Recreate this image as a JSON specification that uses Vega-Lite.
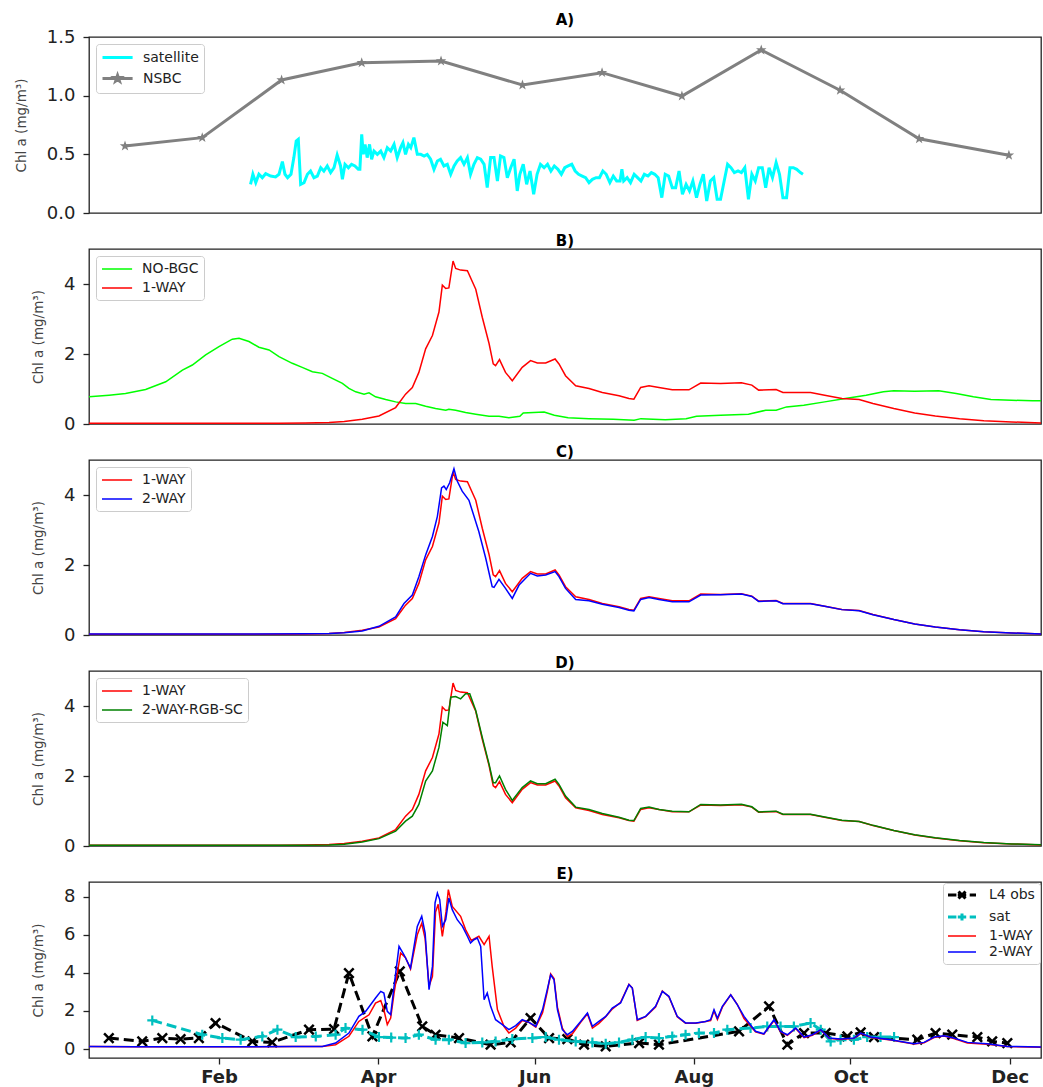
{
  "$schema": "https://vega.github.io/schema/vega-lite/v6.json",
  "padding": {"left": 13, "top": 12, "right": 0, "bottom": 0},
  "spacing": 10,
  "resolve": {"scale": {"color": "independent", "y": "independent"}, "legend": {"color": "independent"}},
  "config": {
    "font": "DejaVu Sans",
    "view": {"stroke": "#222222", "strokeWidth": 1.3},
    "axis": {"grid": false, "domain": false, "labelFont": "DejaVu Sans", "titleFont": "DejaVu Sans", "labelFontSize": 18, "labelColor": "#222222", "tickColor": "#222222", "tickSize": 6, "tickWidth": 1.3, "titleFontSize": 13.5, "titleFontWeight": "normal", "titleColor": "#444444", "labelFlush": false},
    "axisY": {"labelPadding": 8, "titlePadding": 18},
    "legend": {"orient": "top-left", "offset": 7, "fillColor": "white", "strokeColor": "#cccccc", "cornerRadius": 3, "padding": 5, "labelFontSize": 14, "labelFont": "DejaVu Sans", "labelColor": "#222222", "symbolSize": 196, "symbolStrokeWidth": 1.5, "rowPadding": 4, "labelOffset": 25, "symbolType": "M-1,0H3.3"},
    "title": {"font": "DejaVu Sans", "fontSize": 15, "fontWeight": "bold", "anchor": "middle", "offset": 0, "color": "black"}
  },
  "datasets": {
    "A_nsbc": [{"d":-4.0,"v":0.571},{"d":25.6,"v":0.642},{"d":56.0,"v":1.134},{"d":86.7,"v":1.281},{"d":117.1,"v":1.295},{"d":148.3,"v":1.091},{"d":178.8,"v":1.196},{"d":209.4,"v":0.997},{"d":239.8,"v":1.389},{"d":270.0,"v":1.046},{"d":300.3,"v":0.633},{"d":334.7,"v":0.492}],
    "A_sat": [{"d":44.1,"v":0.244},{"d":45.0,"v":0.33},{"d":46.1,"v":0.259},{"d":47.3,"v":0.33},{"d":48.6,"v":0.301},{"d":49.9,"v":0.335},{"d":51.8,"v":0.315},{"d":53.7,"v":0.307},{"d":55.0,"v":0.33},{"d":56.3,"v":0.438},{"d":57.3,"v":0.33},{"d":58.3,"v":0.301},{"d":59.6,"v":0.33},{"d":60.7,"v":0.472},{"d":61.6,"v":0.614},{"d":62.4,"v":0.628},{"d":63.3,"v":0.244},{"d":64.6,"v":0.259},{"d":65.9,"v":0.33},{"d":67.1,"v":0.358},{"d":68.4,"v":0.301},{"d":69.7,"v":0.315},{"d":71.0,"v":0.386},{"d":72.2,"v":0.358},{"d":73.5,"v":0.401},{"d":74.8,"v":0.344},{"d":76.1,"v":0.386},{"d":77.3,"v":0.494},{"d":78.6,"v":0.401},{"d":79.3,"v":0.287},{"d":80.3,"v":0.415},{"d":81.6,"v":0.386},{"d":82.8,"v":0.415},{"d":84.1,"v":0.401},{"d":85.4,"v":0.372},{"d":86.0,"v":0.372},{"d":86.7,"v":0.671},{"d":87.3,"v":0.5},{"d":88.0,"v":0.585},{"d":88.8,"v":0.472},{"d":89.7,"v":0.585},{"d":90.5,"v":0.458},{"d":91.4,"v":0.528},{"d":92.7,"v":0.5},{"d":94.0,"v":0.528},{"d":95.2,"v":0.472},{"d":96.5,"v":0.557},{"d":97.8,"v":0.528},{"d":99.1,"v":0.585},{"d":100.3,"v":0.472},{"d":101.6,"v":0.557},{"d":102.5,"v":0.6},{"d":103.5,"v":0.5},{"d":104.6,"v":0.585},{"d":105.5,"v":0.557},{"d":106.7,"v":0.642},{"d":108.0,"v":0.5},{"d":109.3,"v":0.5},{"d":110.6,"v":0.486},{"d":111.8,"v":0.5},{"d":113.1,"v":0.458},{"d":114.4,"v":0.372},{"d":115.7,"v":0.443},{"d":116.9,"v":0.458},{"d":118.2,"v":0.401},{"d":119.5,"v":0.415},{"d":120.8,"v":0.33},{"d":122.1,"v":0.401},{"d":123.3,"v":0.443},{"d":124.6,"v":0.472},{"d":125.9,"v":0.415},{"d":127.2,"v":0.472},{"d":128.4,"v":0.33},{"d":129.7,"v":0.415},{"d":131.0,"v":0.472},{"d":132.3,"v":0.458},{"d":133.6,"v":0.415},{"d":134.8,"v":0.216},{"d":136.1,"v":0.472},{"d":137.4,"v":0.472},{"d":138.7,"v":0.273},{"d":139.9,"v":0.486},{"d":141.2,"v":0.472},{"d":142.5,"v":0.301},{"d":143.8,"v":0.386},{"d":145.1,"v":0.458},{"d":146.3,"v":0.188},{"d":147.3,"v":0.33},{"d":148.6,"v":0.415},{"d":149.9,"v":0.244},{"d":151.2,"v":0.358},{"d":152.6,"v":0.159},{"d":153.9,"v":0.33},{"d":155.2,"v":0.415},{"d":156.6,"v":0.386},{"d":157.9,"v":0.415},{"d":159.2,"v":0.358},{"d":160.5,"v":0.401},{"d":161.9,"v":0.372},{"d":163.2,"v":0.33},{"d":164.5,"v":0.386},{"d":165.8,"v":0.401},{"d":167.2,"v":0.415},{"d":168.5,"v":0.358},{"d":169.8,"v":0.33},{"d":171.2,"v":0.315},{"d":172.5,"v":0.301},{"d":173.8,"v":0.259},{"d":175.1,"v":0.287},{"d":176.5,"v":0.301},{"d":177.8,"v":0.301},{"d":179.1,"v":0.358},{"d":180.4,"v":0.33},{"d":181.8,"v":0.259},{"d":183.1,"v":0.315},{"d":184.4,"v":0.273},{"d":185.7,"v":0.273},{"d":186.4,"v":0.372},{"d":187.1,"v":0.273},{"d":188.4,"v":0.301},{"d":189.7,"v":0.259},{"d":191.1,"v":0.33},{"d":192.4,"v":0.301},{"d":193.7,"v":0.273},{"d":195.0,"v":0.33},{"d":196.4,"v":0.315},{"d":197.7,"v":0.344},{"d":199.0,"v":0.33},{"d":200.3,"v":0.301},{"d":201.7,"v":0.131},{"d":203.0,"v":0.33},{"d":204.3,"v":0.315},{"d":205.7,"v":0.216},{"d":207.0,"v":0.216},{"d":208.3,"v":0.358},{"d":209.6,"v":0.159},{"d":211.0,"v":0.244},{"d":212.3,"v":0.188},{"d":213.6,"v":0.273},{"d":215.0,"v":0.131},{"d":216.3,"v":0.244},{"d":217.6,"v":0.33},{"d":218.9,"v":0.102},{"d":220.3,"v":0.273},{"d":221.6,"v":0.301},{"d":222.9,"v":0.117},{"d":224.2,"v":0.117},{"d":225.6,"v":0.273},{"d":226.9,"v":0.415},{"d":228.2,"v":0.386},{"d":229.5,"v":0.344},{"d":230.9,"v":0.358},{"d":232.2,"v":0.344},{"d":233.5,"v":0.386},{"d":234.9,"v":0.117},{"d":236.2,"v":0.33},{"d":237.5,"v":0.273},{"d":238.8,"v":0.386},{"d":240.2,"v":0.386},{"d":241.5,"v":0.216},{"d":242.8,"v":0.386},{"d":244.1,"v":0.301},{"d":245.5,"v":0.429},{"d":246.8,"v":0.33},{"d":248.1,"v":0.131},{"d":249.5,"v":0.131},{"d":250.8,"v":0.386},{"d":252.1,"v":0.386},{"d":253.4,"v":0.372},{"d":254.8,"v":0.344},{"d":255.8,"v":0.33}],
    "nobgc": [{"d":-17.8,"v":0.776},{"d":-10.1,"v":0.824},{"d":-3.8,"v":0.872},{"d":3.9,"v":0.987},{"d":11.6,"v":1.207},{"d":18.0,"v":1.542},{"d":21.8,"v":1.686},{"d":26.9,"v":1.973},{"d":32.0,"v":2.213},{"d":37.1,"v":2.423},{"d":39.7,"v":2.452},{"d":43.5,"v":2.356},{"d":47.3,"v":2.194},{"d":51.2,"v":2.117},{"d":55.0,"v":1.925},{"d":60.1,"v":1.734},{"d":63.9,"v":1.619},{"d":67.8,"v":1.494},{"d":71.6,"v":1.447},{"d":75.4,"v":1.303},{"d":79.3,"v":1.159},{"d":81.8,"v":1.016},{"d":84.4,"v":0.92},{"d":87.6,"v":0.853},{"d":89.5,"v":0.891},{"d":92.0,"v":0.776},{"d":95.9,"v":0.699},{"d":99.7,"v":0.632},{"d":103.5,"v":0.584},{"d":107.4,"v":0.584},{"d":111.2,"v":0.508},{"d":115.0,"v":0.441},{"d":118.9,"v":0.393},{"d":120.1,"v":0.422},{"d":122.7,"v":0.393},{"d":126.5,"v":0.326},{"d":130.4,"v":0.278},{"d":135.5,"v":0.22},{"d":139.3,"v":0.22},{"d":143.1,"v":0.182},{"d":147.3,"v":0.22},{"d":148.6,"v":0.316},{"d":156.6,"v":0.345},{"d":160.5,"v":0.249},{"d":165.8,"v":0.182},{"d":173.8,"v":0.153},{"d":183.1,"v":0.134},{"d":191.1,"v":0.105},{"d":193.7,"v":0.153},{"d":203.0,"v":0.125},{"d":211.0,"v":0.153},{"d":215.0,"v":0.22},{"d":224.2,"v":0.249},{"d":234.9,"v":0.278},{"d":241.5,"v":0.393},{"d":245.5,"v":0.393},{"d":249.5,"v":0.489},{"d":256.1,"v":0.537},{"d":264.1,"v":0.632},{"d":272.0,"v":0.728},{"d":280.0,"v":0.824},{"d":286.6,"v":0.92},{"d":290.6,"v":0.948},{"d":298.6,"v":0.939},{"d":307.8,"v":0.948},{"d":314.5,"v":0.872},{"d":321.1,"v":0.776},{"d":327.8,"v":0.699},{"d":335.7,"v":0.68},{"d":343.7,"v":0.661},{"d":347.4,"v":0.661}],
    "oneway": [{"d":-17.8,"v":0.02},{"d":0,"v":0.02},{"d":20,"v":0.02},{"d":40,"v":0.02},{"d":55,"v":0.025},{"d":65,"v":0.03},{"d":74.2,"v":0.04},{"d":80,"v":0.07},{"d":86.9,"v":0.134},{"d":93.3,"v":0.23},{"d":99.7,"v":0.47},{"d":103.5,"v":0.853},{"d":106.1,"v":1.044},{"d":108.6,"v":1.475},{"d":111.2,"v":2.146},{"d":113.8,"v":2.529},{"d":116.3,"v":3.199},{"d":117.6,"v":3.966},{"d":118.9,"v":3.87},{"d":120.1,"v":3.889},{"d":121.7,"v":4.655},{"d":122.7,"v":4.445},{"d":124.6,"v":4.397},{"d":127.2,"v":4.377},{"d":130.4,"v":3.85},{"d":132.9,"v":3.05},{"d":135.5,"v":2.3},{"d":137.1,"v":1.72},{"d":138.0,"v":1.667},{"d":139.5,"v":1.839},{"d":141.8,"v":1.475},{"d":144.4,"v":1.236},{"d":148.2,"v":1.619},{"d":151.4,"v":1.81},{"d":154.0,"v":1.743},{"d":157.2,"v":1.743},{"d":160.8,"v":1.858},{"d":162.3,"v":1.715},{"d":164.8,"v":1.379},{"d":168.7,"v":1.092},{"d":173.8,"v":1.015},{"d":178.9,"v":0.9},{"d":185.3,"v":0.805},{"d":189.1,"v":0.728},{"d":191.0,"v":0.709},{"d":193.6,"v":1.044},{"d":196.8,"v":1.092},{"d":200.6,"v":1.044},{"d":205.7,"v":0.977},{"d":212.1,"v":0.977},{"d":216.6,"v":1.169},{"d":224.2,"v":1.159},{"d":232.2,"v":1.178},{"d":236.2,"v":1.111},{"d":238.8,"v":0.968},{"d":245.5,"v":0.987},{"d":248.1,"v":0.901},{"d":258.7,"v":0.901},{"d":264.1,"v":0.824},{"d":270.7,"v":0.728},{"d":277.3,"v":0.699},{"d":282.6,"v":0.584},{"d":290.6,"v":0.441},{"d":298.6,"v":0.316},{"d":306.5,"v":0.23},{"d":315.8,"v":0.153},{"d":325.1,"v":0.096},{"d":335.7,"v":0.058},{"d":347.4,"v":0.03}],
    "twoway_c": [{"d":-17.8,"v":0.03},{"d":40,"v":0.03},{"d":65,"v":0.035},{"d":74.2,"v":0.04},{"d":80,"v":0.065},{"d":86.9,"v":0.115},{"d":93.3,"v":0.249},{"d":99.7,"v":0.517},{"d":102.9,"v":0.9},{"d":106.1,"v":1.14},{"d":108.6,"v":1.667},{"d":111.2,"v":2.289},{"d":113.8,"v":2.816},{"d":115.7,"v":3.39},{"d":117.3,"v":4.205},{"d":118.2,"v":4.253},{"d":119.1,"v":4.157},{"d":120.4,"v":4.349},{"d":122.05,"v":4.751},{"d":123.3,"v":4.397},{"d":125.2,"v":4.109},{"d":127.8,"v":3.85},{"d":131.6,"v":2.95},{"d":134.2,"v":2.2},{"d":136.7,"v":1.379},{"d":137.4,"v":1.36},{"d":139.3,"v":1.59},{"d":141.8,"v":1.331},{"d":144.4,"v":1.044},{"d":147.0,"v":1.427},{"d":151.4,"v":1.762},{"d":154.0,"v":1.686},{"d":157.2,"v":1.715},{"d":160.8,"v":1.81},{"d":162.3,"v":1.667},{"d":164.8,"v":1.331},{"d":168.7,"v":1.015},{"d":173.8,"v":0.977},{"d":178.9,"v":0.881},{"d":185.3,"v":0.785},{"d":189.1,"v":0.709},{"d":191.0,"v":0.69},{"d":193.6,"v":1.015},{"d":196.8,"v":1.073},{"d":200.6,"v":1.015},{"d":205.7,"v":0.948},{"d":212.1,"v":0.948},{"d":216.6,"v":1.14},{"d":224.2,"v":1.15},{"d":232.2,"v":1.17},{"d":236.2,"v":1.1},{"d":238.8,"v":0.96},{"d":245.5,"v":0.98},{"d":248.1,"v":0.895},{"d":258.7,"v":0.895},{"d":264.1,"v":0.82},{"d":270.7,"v":0.725},{"d":277.3,"v":0.695},{"d":282.6,"v":0.58},{"d":290.6,"v":0.44},{"d":298.6,"v":0.315},{"d":306.5,"v":0.23},{"d":315.8,"v":0.153},{"d":325.1,"v":0.096},{"d":335.7,"v":0.058},{"d":347.4,"v":0.03}],
    "rgbsc": [{"d":-17.8,"v":0.02},{"d":40,"v":0.02},{"d":65,"v":0.025},{"d":74.2,"v":0.03},{"d":80,"v":0.05},{"d":86.9,"v":0.115},{"d":93.3,"v":0.211},{"d":99.7,"v":0.422},{"d":103.5,"v":0.709},{"d":106.1,"v":0.853},{"d":108.6,"v":1.188},{"d":111.2,"v":1.858},{"d":113.8,"v":2.146},{"d":116.3,"v":2.816},{"d":117.8,"v":3.535},{"d":119.5,"v":3.439},{"d":120.8,"v":4.253},{"d":122.7,"v":4.272},{"d":124.6,"v":4.205},{"d":126.5,"v":4.349},{"d":128.1,"v":4.349},{"d":130.4,"v":3.87},{"d":132.9,"v":3.104},{"d":135.5,"v":2.337},{"d":137.1,"v":1.81},{"d":138.0,"v":1.81},{"d":139.5,"v":2.002},{"d":141.8,"v":1.619},{"d":144.4,"v":1.303},{"d":148.2,"v":1.667},{"d":151.4,"v":1.858},{"d":154.0,"v":1.782},{"d":157.2,"v":1.782},{"d":160.8,"v":1.906},{"d":162.3,"v":1.762},{"d":164.8,"v":1.427},{"d":168.7,"v":1.111},{"d":173.8,"v":1.044},{"d":178.9,"v":0.929},{"d":185.3,"v":0.824},{"d":189.1,"v":0.738},{"d":191.0,"v":0.728},{"d":193.6,"v":1.073},{"d":196.8,"v":1.111},{"d":200.6,"v":1.044},{"d":205.7,"v":0.996},{"d":212.1,"v":0.977},{"d":216.6,"v":1.188},{"d":224.2,"v":1.17},{"d":232.2,"v":1.19},{"d":236.2,"v":1.12},{"d":238.8,"v":0.975},{"d":245.5,"v":0.995},{"d":248.1,"v":0.91},{"d":258.7,"v":0.905},{"d":264.1,"v":0.83},{"d":270.7,"v":0.735},{"d":277.3,"v":0.7},{"d":282.6,"v":0.59},{"d":290.6,"v":0.445},{"d":298.6,"v":0.32},{"d":306.5,"v":0.235},{"d":315.8,"v":0.155},{"d":325.1,"v":0.098},{"d":335.7,"v":0.06},{"d":347.4,"v":0.032}],
    "E_2way": [{"d":-17.8,"v":0.14},{"d":0,"v":0.12},{"d":20,"v":0.12},{"d":40,"v":0.12},{"d":60,"v":0.13},{"d":71.6,"v":0.14},{"d":76.7,"v":0.315},{"d":81.8,"v":0.84},{"d":85.6,"v":1.715},{"d":88.2,"v":1.978},{"d":92.0,"v":2.678},{"d":94.0,"v":3.028},{"d":95.2,"v":2.94},{"d":96.5,"v":1.978},{"d":97.8,"v":1.803},{"d":99.1,"v":3.29},{"d":101.0,"v":5.39},{"d":102.9,"v":4.95},{"d":105.4,"v":4.25},{"d":108.0,"v":6.44},{"d":109.7,"v":6.97},{"d":111.0,"v":6.09},{"d":112.5,"v":3.12},{"d":113.8,"v":4.34},{"d":114.8,"v":7.67},{"d":115.7,"v":8.19},{"d":116.6,"v":7.84},{"d":117.6,"v":6.44},{"d":118.9,"v":6.79},{"d":120.1,"v":7.93},{"d":121.4,"v":7.32},{"d":123.3,"v":6.79},{"d":125.3,"v":6.44},{"d":127.2,"v":5.92},{"d":128.4,"v":5.57},{"d":129.7,"v":5.74},{"d":131.0,"v":5.83},{"d":132.3,"v":5.39},{"d":133.6,"v":2.59},{"d":134.8,"v":2.94},{"d":136.1,"v":2.24},{"d":138.0,"v":1.54},{"d":140.6,"v":1.28},{"d":143.1,"v":1.015},{"d":145.7,"v":1.23},{"d":148.2,"v":1.54},{"d":150.8,"v":1.4},{"d":153.4,"v":1.19},{"d":156.0,"v":2.07},{"d":157.8,"v":3.12},{"d":159.1,"v":3.9},{"d":160.4,"v":3.64},{"d":161.7,"v":2.07},{"d":163.6,"v":1.015},{"d":165.5,"v":0.752},{"d":167.4,"v":0.927},{"d":170.6,"v":1.45},{"d":173.2,"v":1.89},{"d":175.1,"v":1.19},{"d":177.6,"v":1.45},{"d":180.2,"v":1.715},{"d":182.7,"v":2.15},{"d":185.9,"v":2.42},{"d":189.1,"v":3.38},{"d":190.4,"v":3.2},{"d":192.3,"v":1.54},{"d":195.5,"v":1.715},{"d":199.3,"v":2.24},{"d":201.9,"v":3.03},{"d":204.4,"v":2.77},{"d":207.6,"v":1.715},{"d":210.8,"v":1.37},{"d":214.7,"v":1.37},{"d":218.5,"v":1.45},{"d":220.4,"v":1.54},{"d":221.7,"v":2.07},{"d":223.0,"v":1.62},{"d":224.9,"v":2.24},{"d":228.1,"v":2.85},{"d":230.6,"v":2.33},{"d":233.2,"v":1.715},{"d":235.1,"v":1.37},{"d":237.6,"v":0.93},{"d":240.8,"v":0.8},{"d":244.7,"v":1.54},{"d":247.2,"v":0.93},{"d":249.8,"v":0.75},{"d":253.0,"v":1.1},{"d":256.2,"v":0.63},{"d":259.4,"v":0.75},{"d":262.6,"v":1.015},{"d":265.8,"v":0.58},{"d":270.2,"v":0.525},{"d":275.3,"v":0.58},{"d":277.9,"v":0.84},{"d":281.7,"v":0.63},{"d":289.4,"v":0.49},{"d":298.3,"v":0.28},{"d":302.2,"v":0.35},{"d":306.0,"v":0.63},{"d":309.8,"v":0.7},{"d":313.6,"v":0.58},{"d":318.8,"v":0.35},{"d":326.4,"v":0.28},{"d":334.1,"v":0.14},{"d":347.4,"v":0.105}],
    "E_1way": [{"d":-17.8,"v":0.14},{"d":0,"v":0.12},{"d":20,"v":0.12},{"d":40,"v":0.12},{"d":60,"v":0.13},{"d":71.6,"v":0.14},{"d":76.7,"v":0.23},{"d":81.8,"v":0.67},{"d":85.6,"v":1.45},{"d":89.5,"v":1.8},{"d":92.0,"v":2.41},{"d":94.0,"v":2.55},{"d":95.2,"v":2.06},{"d":96.5,"v":1.28},{"d":97.8,"v":1.63},{"d":99.1,"v":2.94},{"d":101.6,"v":5.04},{"d":103.5,"v":4.8},{"d":105.4,"v":4.2},{"d":108.0,"v":6.0},{"d":109.7,"v":6.6},{"d":111.0,"v":5.8},{"d":112.5,"v":3.3},{"d":113.8,"v":3.82},{"d":115.0,"v":7.2},{"d":116.0,"v":7.6},{"d":117.6,"v":5.92},{"d":119.0,"v":7.2},{"d":119.9,"v":8.37},{"d":121.4,"v":7.49},{"d":124.6,"v":6.97},{"d":126.5,"v":6.27},{"d":128.7,"v":5.7},{"d":131.6,"v":5.92},{"d":133.6,"v":5.48},{"d":135.5,"v":5.92},{"d":136.7,"v":4.34},{"d":138.7,"v":2.07},{"d":141.2,"v":1.19},{"d":143.1,"v":0.84},{"d":145.7,"v":1.1},{"d":148.2,"v":1.5},{"d":150.8,"v":1.4},{"d":153.4,"v":1.15},{"d":156.0,"v":1.9},{"d":157.8,"v":3.0},{"d":159.1,"v":3.95},{"d":160.4,"v":3.7},{"d":161.7,"v":2.2},{"d":163.6,"v":1.1},{"d":165.5,"v":0.65},{"d":167.4,"v":0.8},{"d":170.6,"v":1.4},{"d":173.2,"v":1.85},{"d":175.1,"v":1.1},{"d":177.6,"v":1.35},{"d":180.2,"v":1.7},{"d":182.7,"v":2.1},{"d":185.9,"v":2.45},{"d":189.1,"v":3.4},{"d":190.4,"v":3.2},{"d":192.3,"v":1.5},{"d":195.5,"v":1.7},{"d":199.3,"v":2.2},{"d":201.9,"v":3.05},{"d":204.4,"v":2.75},{"d":207.6,"v":1.7},{"d":210.8,"v":1.35},{"d":214.7,"v":1.35},{"d":218.5,"v":1.45},{"d":220.4,"v":1.5},{"d":221.7,"v":2.0},{"d":223.0,"v":1.55},{"d":224.9,"v":2.2},{"d":228.1,"v":2.85},{"d":230.6,"v":2.35},{"d":233.2,"v":1.6},{"d":235.1,"v":1.3},{"d":237.6,"v":0.9},{"d":240.8,"v":0.78},{"d":244.7,"v":1.5},{"d":247.2,"v":0.9},{"d":249.8,"v":0.72},{"d":253.0,"v":1.08},{"d":256.2,"v":0.6},{"d":259.4,"v":0.72},{"d":262.6,"v":1.0},{"d":265.8,"v":0.56},{"d":270.2,"v":0.5},{"d":275.3,"v":0.56},{"d":277.9,"v":0.82},{"d":281.7,"v":0.6},{"d":289.4,"v":0.47},{"d":298.3,"v":0.26},{"d":302.2,"v":0.33},{"d":306.0,"v":0.6},{"d":309.8,"v":0.68},{"d":313.6,"v":0.55},{"d":318.8,"v":0.32},{"d":326.4,"v":0.25},{"d":334.1,"v":0.13},{"d":347.4,"v":0.1}],
    "E_l4": [{"d":-10.2,"v":0.577},{"d":2.6,"v":0.402},{"d":10.3,"v":0.577},{"d":17.3,"v":0.525},{"d":24.3,"v":0.577},{"d":30.7,"v":1.365},{"d":44.8,"v":0.402},{"d":52.4,"v":0.35},{"d":66.5,"v":1.015},{"d":76.1,"v":1.05},{"d":81.8,"v":3.991},{"d":90.8,"v":0.665},{"d":101.3,"v":4.08},{"d":109.9,"v":1.19},{"d":115.0,"v":0.75},{"d":124.0,"v":0.577},{"d":136.1,"v":0.227},{"d":143.8,"v":0.35},{"d":151.4,"v":1.628},{"d":158.5,"v":0.577},{"d":165.5,"v":0.525},{"d":171.9,"v":0.227},{"d":180.2,"v":0.14},{"d":193.0,"v":0.315},{"d":200.6,"v":0.227},{"d":231.3,"v":0.927},{"d":242.8,"v":2.24},{"d":249.8,"v":0.227},{"d":256.2,"v":0.84},{"d":264.5,"v":0.84},{"d":272.8,"v":0.665},{"d":277.9,"v":0.875},{"d":283.0,"v":0.63},{"d":299.6,"v":0.49},{"d":306.6,"v":0.84},{"d":313.0,"v":0.753},{"d":322.6,"v":0.63},{"d":328.3,"v":0.402},{"d":334.1,"v":0.315}],
    "E_sat": [{"d":6.45,"v":1.505},{"d":25.6,"v":0.752},{"d":33.3,"v":0.577},{"d":40.3,"v":0.49},{"d":48.6,"v":0.665},{"d":54.4,"v":1.015},{"d":61.4,"v":0.63},{"d":69.1,"v":0.665},{"d":76.7,"v":0.752},{"d":80.5,"v":1.103},{"d":87.0,"v":1.015},{"d":93.3,"v":0.63},{"d":98,"v":0.6},{"d":103.5,"v":0.577},{"d":108.6,"v":0.752},{"d":115.0,"v":0.49},{"d":120.1,"v":0.49},{"d":126.5,"v":0.315},{"d":132.9,"v":0.35},{"d":138.0,"v":0.402},{"d":144.4,"v":0.525},{"d":152.1,"v":0.577},{"d":157.2,"v":0.63},{"d":162.3,"v":0.49},{"d":168.7,"v":0.402},{"d":175.1,"v":0.35},{"d":180.2,"v":0.28},{"d":185.3,"v":0.35},{"d":190.4,"v":0.49},{"d":195.5,"v":0.63},{"d":200.6,"v":0.577},{"d":205.7,"v":0.665},{"d":210.8,"v":0.752},{"d":215.9,"v":0.84},{"d":221.7,"v":0.84},{"d":226.8,"v":1.015},{"d":235.7,"v":1.103},{"d":242.1,"v":1.19},{"d":247.2,"v":1.19},{"d":252.3,"v":1.19},{"d":258.7,"v":1.365},{"d":262.6,"v":1.015},{"d":266.4,"v":0.402},{"d":270.2,"v":0.49},{"d":275.3,"v":0.49},{"d":280.4,"v":0.63},{"d":285.5,"v":0.63},{"d":290.7,"v":0.63}]
  },
  "vconcat": [
    {
      "width": 952, "height": 176,
      "title": {"text": "A)", "fontSize": 15, "fontWeight": "bold", "offset": 0},
      "encoding": {
        "x": {"field": "d", "type": "quantitative", "scale": {"domain": [-17.8, 347.0], "nice": false, "zero": false}, "axis": null},
        "y": {"field": "v", "type": "quantitative", "scale": {"domain": [0, 1.5], "nice": false, "zero": false}, "axis": {"values": [0, 0.5, 1, 1.5], "format": ".1f", "title": "Chl a (mg/m³)"}}
      },
      "layer": [
        {"data": {"name": "A_sat"}, "mark": {"type": "line", "strokeWidth": 3, "clip": true},
         "encoding": {"color": {"datum": "satellite", "type": "nominal", "scale": {"domain": ["satellite", "NSBC"], "range": ["#00ffff", "#808080"]},
           "legend": {"title": null, "symbolStrokeWidth": 3, "encode": {"symbols": {"update": {
             "shape": {"signal": "datum.value === 'NSBC' ? 'M-1,0H3.3M1.15,-0.45L1.256,-0.146L1.578,-0.139L1.321,0.056L1.415,0.364L1.15,0.18L0.885,0.364L0.979,0.056L0.722,-0.139L1.044,-0.146Z' : 'M-1,0H3.3'"},
             "fill": {"signal": "datum.value === 'NSBC' ? '#808080' : 'transparent'"}}}}}}}},
        {"data": {"name": "A_nsbc"}, "mark": {"type": "line", "strokeWidth": 3, "clip": true},
         "encoding": {"color": {"datum": "NSBC", "type": "nominal"}}},
        {"data": {"name": "A_nsbc"}, "mark": {"type": "point", "shape": "M0,-1L0.235,-0.324L0.951,-0.309L0.38,0.124L0.588,0.809L0,0.4L-0.588,0.809L-0.38,0.124L-0.951,-0.309L-0.235,-0.324Z", "size": 121, "filled": true, "color": "#808080", "opacity": 1}}
      ]
    },
    {
      "width": 952, "height": 175,
      "title": {"text": "B)", "fontSize": 15, "fontWeight": "bold", "offset": 0},
      "encoding": {
        "x": {"field": "d", "type": "quantitative", "scale": {"domain": [-17.8, 347.0], "nice": false, "zero": false}, "axis": null},
        "y": {"field": "v", "type": "quantitative", "scale": {"domain": [0, 5], "nice": false, "zero": false}, "axis": {"values": [0, 2, 4], "title": "Chl a (mg/m³)"}}
      },
      "layer": [
        {"data": {"name": "nobgc"}, "mark": {"type": "line", "strokeWidth": 1.5, "clip": true},
         "encoding": {"color": {"datum": "NO-BGC", "type": "nominal", "scale": {"domain": ["NO-BGC", "1-WAY"], "range": ["#00ff00", "#ff0000"]}, "legend": {"title": null}}}},
        {"data": {"name": "oneway"}, "mark": {"type": "line", "strokeWidth": 1.5, "clip": true},
         "encoding": {"color": {"datum": "1-WAY", "type": "nominal"}}}
      ]
    },
    {
      "width": 952, "height": 175,
      "title": {"text": "C)", "fontSize": 15, "fontWeight": "bold", "offset": 0},
      "encoding": {
        "x": {"field": "d", "type": "quantitative", "scale": {"domain": [-17.8, 347.0], "nice": false, "zero": false}, "axis": null},
        "y": {"field": "v", "type": "quantitative", "scale": {"domain": [0, 5], "nice": false, "zero": false}, "axis": {"values": [0, 2, 4], "title": "Chl a (mg/m³)"}}
      },
      "layer": [
        {"data": {"name": "oneway"}, "mark": {"type": "line", "strokeWidth": 1.5, "clip": true},
         "encoding": {"color": {"datum": "1-WAY", "type": "nominal", "scale": {"domain": ["1-WAY", "2-WAY"], "range": ["#ff0000", "#0000ff"]}, "legend": {"title": null}}}},
        {"data": {"name": "twoway_c"}, "mark": {"type": "line", "strokeWidth": 1.5, "clip": true},
         "encoding": {"color": {"datum": "2-WAY", "type": "nominal"}}}
      ]
    },
    {
      "width": 952, "height": 175,
      "title": {"text": "D)", "fontSize": 15, "fontWeight": "bold", "offset": 0},
      "encoding": {
        "x": {"field": "d", "type": "quantitative", "scale": {"domain": [-17.8, 347.0], "nice": false, "zero": false}, "axis": null},
        "y": {"field": "v", "type": "quantitative", "scale": {"domain": [0, 5], "nice": false, "zero": false}, "axis": {"values": [0, 2, 4], "title": "Chl a (mg/m³)"}}
      },
      "layer": [
        {"data": {"name": "oneway"}, "mark": {"type": "line", "strokeWidth": 1.5, "clip": true},
         "encoding": {"color": {"datum": "1-WAY", "type": "nominal", "scale": {"domain": ["1-WAY", "2-WAY-RGB-SC"], "range": ["#ff0000", "#008000"]}, "legend": {"title": null}}}},
        {"data": {"name": "rgbsc"}, "mark": {"type": "line", "strokeWidth": 1.5, "clip": true},
         "encoding": {"color": {"datum": "2-WAY-RGB-SC", "type": "nominal"}}}
      ]
    },
    {
      "width": 952, "height": 176,
      "title": {"text": "E)", "fontSize": 15, "fontWeight": "bold", "offset": 0},
      "encoding": {
        "x": {"field": "d", "type": "quantitative", "scale": {"domain": [-17.8, 347.0], "nice": false, "zero": false},
              "axis": {"values": [32, 93, 153, 214, 274, 335], "labelExpr": "datum.value < 60 ? 'Feb' : datum.value < 120 ? 'Apr' : datum.value < 180 ? 'Jun' : datum.value < 240 ? 'Aug' : datum.value < 300 ? 'Oct' : 'Dec'", "labelFontWeight": "bold", "labelFontSize": 18, "labelPadding": 4, "title": null}},
        "y": {"field": "v", "type": "quantitative", "scale": {"domain": [-0.47, 8.77], "nice": false, "zero": false}, "axis": {"values": [0, 2, 4, 6, 8], "title": "Chl a (mg/m³)"}}
      },
      "layer": [
        {"data": {"name": "E_l4"}, "mark": {"type": "line", "strokeWidth": 3, "strokeDash": [10, 5], "clip": true},
         "encoding": {"color": {"datum": "L4 obs", "type": "nominal", "scale": {"domain": ["L4 obs", "sat", "1-WAY", "2-WAY"], "range": ["#000000", "#00bfbf", "#ff0000", "#0000ff"]},
           "legend": {"title": null, "orient": "top-right", "offset": 1, "labelOffset": 27, "rowPadding": 2, "encode": {"symbols": {"update": {
             "shape": {"signal": "datum.value === 'L4 obs' ? 'M-1,0H0.2M0.5,-0.5L1.5,0.5M0.5,0.5L1.5,-0.5M0.4,0H1.6M2.1,0H3' : datum.value === 'sat' ? 'M-1,0H0.2M1,-0.5V0.5M0.4,0H1.6M2.1,0H3' : 'M-1,0H3'"},
             "strokeWidth": {"signal": "datum.value === 'L4 obs' || datum.value === 'sat' ? 3 : 1.5"}}}}}}}},
        {"data": {"name": "E_l4"}, "mark": {"type": "point", "shape": "M-1,-1L1,1M-1,1L1,-1", "size": 90, "filled": false, "strokeWidth": 2.5, "color": "#000000", "opacity": 1}},
        {"data": {"name": "E_sat"}, "mark": {"type": "line", "strokeWidth": 3, "strokeDash": [10, 5], "clip": true},
         "encoding": {"color": {"datum": "sat", "type": "nominal"}}},
        {"data": {"name": "E_sat"}, "mark": {"type": "point", "shape": "M-1,0H1M0,-1V1", "size": 100, "filled": false, "strokeWidth": 2.2, "color": "#00bfbf", "opacity": 1}},
        {"data": {"name": "E_1way"}, "mark": {"type": "line", "strokeWidth": 1.5, "clip": true},
         "encoding": {"color": {"datum": "1-WAY", "type": "nominal"}}},
        {"data": {"name": "E_2way"}, "mark": {"type": "line", "strokeWidth": 1.5, "clip": true},
         "encoding": {"color": {"datum": "2-WAY", "type": "nominal"}}}
      ]
    }
  ]
}
